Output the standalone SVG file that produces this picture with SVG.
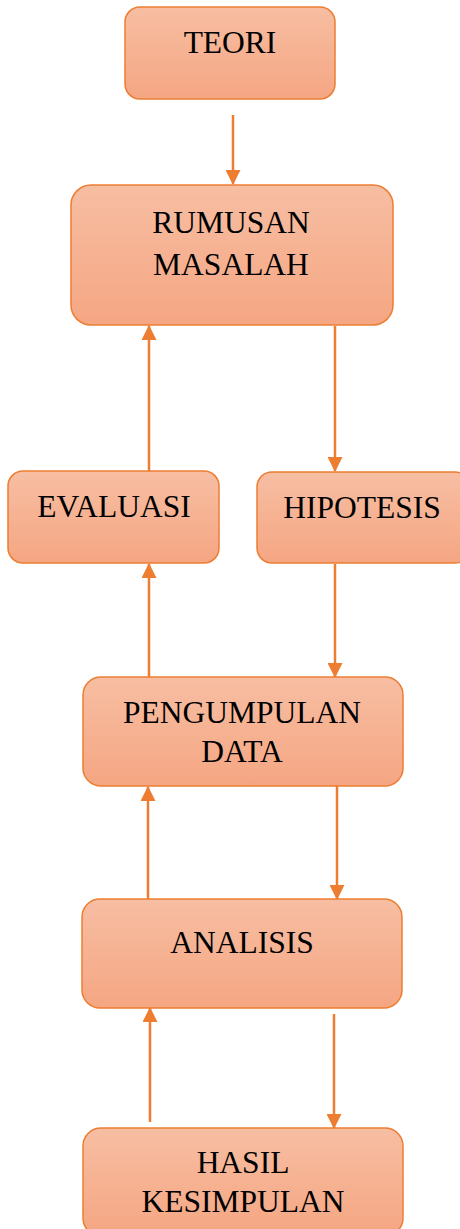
<svg xmlns="http://www.w3.org/2000/svg" width="460" height="1229" viewBox="0 0 460 1229">
<defs>
<linearGradient id="g" x1="0" y1="0" x2="0" y2="1">
<stop offset="0" stop-color="#F7BEA3"/>
<stop offset="1" stop-color="#F5A682"/>
</linearGradient>
<marker id="ah" markerWidth="6" markerHeight="6" refX="5.6" refY="3" orient="auto" markerUnits="strokeWidth" viewBox="0 0 6 6">
<path d="M0,0 L6,3 L0,6 Z" fill="#ED7D31"/>
</marker>
<style>
.box{fill:url(#g);stroke:#ED7D31;stroke-width:1.5}
.t{font-family:"Liberation Serif","Times New Roman",serif;font-size:31.5px;fill:#000;text-anchor:middle}
.c{stroke:#ED7D31;stroke-width:2.5;fill:none;marker-end:url(#ah)}
</style>
</defs>
<rect width="460" height="1229" fill="#fff"/>
<g id="connectors">
<line class="c" x1="233" y1="115" x2="233" y2="184"/>
<line class="c" x1="149" y1="471" x2="149" y2="326"/>
<line class="c" x1="335" y1="326" x2="335" y2="471"/>
<line class="c" x1="149" y1="677" x2="149" y2="564"/>
<line class="c" x1="335" y1="564" x2="335" y2="677"/>
<line class="c" x1="148" y1="899" x2="148" y2="787"/>
<line class="c" x1="337" y1="786" x2="337" y2="899"/>
<line class="c" x1="150" y1="1122" x2="150" y2="1008"/>
<line class="c" x1="334" y1="1014" x2="334" y2="1128"/>
</g>
<g id="teori">
<rect class="box" x="125" y="7" width="210" height="92" rx="15"/>
<text class="t" x="230" y="53">TEORI</text>
</g>
<g id="rumusan">
<rect class="box" x="71" y="185" width="322" height="140" rx="20"/>
<text class="t" x="231" y="233">RUMUSAN</text>
<text class="t" x="231" y="275">MASALAH</text>
</g>
<g id="evaluasi">
<rect class="box" x="8" y="471" width="211" height="92" rx="15"/>
<text class="t" x="114" y="517">EVALUASI</text>
</g>
<g id="hipotesis">
<rect class="box" x="257" y="472" width="213" height="91" rx="15"/>
<text class="t" x="362" y="518">HIPOTESIS</text>
</g>
<g id="pengumpulan">
<rect class="box" x="83" y="677" width="320" height="109" rx="18"/>
<text class="t" x="242" y="723">PENGUMPULAN</text>
<text class="t" x="242" y="762">DATA</text>
</g>
<g id="analisis">
<rect class="box" x="82" y="899" width="320" height="109" rx="18"/>
<text class="t" x="242" y="953">ANALISIS</text>
</g>
<g id="hasil">
<rect class="box" x="83" y="1128" width="320" height="108" rx="18"/>
<text class="t" x="243" y="1173">HASIL</text>
<text class="t" x="243" y="1212">KESIMPULAN</text>
</g>
</svg>
